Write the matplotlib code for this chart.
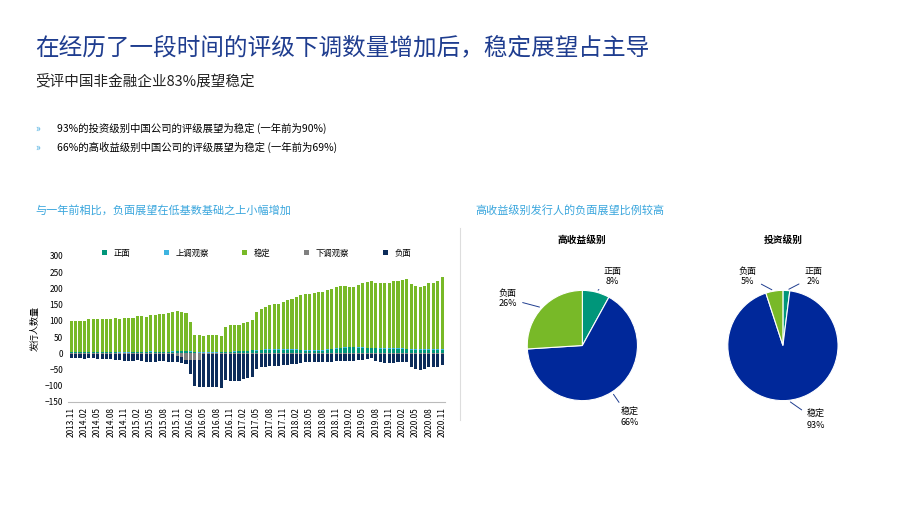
import numpy as np
import pandas as pd
import matplotlib.pyplot as plt

plt.rcParams['font.family'] = ['Noto Sans CJK SC', 'DejaVu Sans']

# monthly issuer counts, 2013.11 - 2020.11
months = pd.period_range('2013-11', '2020-11', freq='M')
stable_top = [100, 100, 100, 99, 105, 105, 105, 106, 107, 107, 108, 107,
              109, 108, 110, 115, 115, 113, 118, 119, 120, 122, 124, 127,
              131, 127, 123, 95, 55, 55, 54, 55, 56, 55, 54, 80,
              86, 86, 88, 92, 95, 103, 128, 137, 143, 148, 152, 153,
              158, 163, 168, 172, 178, 184, 182, 186, 190, 190, 196, 197,
              205, 206, 208, 205, 203, 210, 215, 219, 224, 218, 218, 215,
              218, 222, 224, 227, 228, 212, 206, 203, 208, 215, 216, 222, 236]
positive = [4, 4, 4, 4, 4, 4, 4, 4, 3, 3, 3, 2,
            2, 2, 3, 3, 3, 3, 5, 4, 4, 4, 4, 5,
            6, 6, 6, 5, 3, 2, 2, 2, 2, 2, 3, 4,
            4, 5, 6, 6, 7, 9, 8, 9, 10, 11, 11, 11,
            11, 11, 10, 10, 9, 8, 7, 7, 7, 8, 10, 12,
            14, 15, 17, 18, 18, 17, 16, 15, 15, 15, 14, 13,
            13, 13, 13, 13, 12, 10, 10, 10, 10, 10, 10, 10, 10]
watch_up = [1, 1, 1, 1, 1, 1, 1, 1, 1, 1, 1, 1,
            1, 1, 1, 1, 1, 1, 1, 1, 1, 1, 1, 1,
            1, 1, 1, 1, 1, 1, 1, 1, 1, 1, 1, 1,
            1, 1, 1, 1, 1, 1, 2, 2, 2, 2, 2, 2,
            2, 2, 2, 2, 2, 2, 2, 2, 2, 2, 2, 2,
            2, 2, 2, 2, 2, 2, 2, 2, 2, 2, 2, 2,
            2, 2, 2, 2, 2, 2, 2, 2, 2, 2, 2, 2, 2]
negative = [-14, -14, -14, -15, -13, -13, -15, -15, -15, -16, -18, -20,
            -22, -22, -21, -20, -22, -24, -24, -24, -23, -22, -23, -23,
            -20, -18, -14, -45, -82, -85, -102, -101, -102, -103, -104, -80,
            -82, -82, -82, -78, -75, -72, -46, -41, -39, -37, -37, -36,
            -35, -33, -32, -30, -28, -26, -26, -26, -26, -25, -24, -24,
            -23, -23, -23, -22, -22, -20, -18, -16, -14, -22, -24, -28,
            -28, -27, -26, -26, -26, -40, -46, -48, -46, -40, -40, -40, -35]
watch_down = [-2, -2, -2, -2, -2, -2, -2, -2, -2, -2, -2, -2,
              -2, -2, -2, -2, -2, -2, -2, -2, -2, -2, -3, -3,
              -8, -12, -20, -20, -20, -20, -2, -2, -2, -2, -2, -2,
              -2, -2, -2, -2, -2, -2, -2, -2, -2, -2, -2, -2,
              -2, -2, -2, -2, -2, -2, -2, -2, -2, -2, -2, -2,
              -2, -2, -2, -2, -2, -2, -2, -2, -2, -2, -2, -2,
              -2, -2, -2, -2, -2, -2, -2, -2, -2, -2, -2, -2, -2]

pie_labels = ['正面', '稳定', '负面']
hy_share = [8, 66, 26]
ig_share = [2, 93, 5]

C_POS, C_UP, C_STB, C_DN, C_NEG = '#00967a', '#3db4e0', '#78b928', '#808080', '#0c2c5a'
C_PIE = [C_POS, '#00289a', C_STB]

fig = plt.figure(figsize=(9.2, 5.18), dpi=100)
fig.text(0.038, 0.895, '在经历了一段时间的评级下调数量增加后，稳定展望占主导',
         fontsize=17, color='#1f3d8f')
fig.text(0.038, 0.835, '受评中国非金融企业83%展望稳定', fontsize=10.5, color='#222222')
fig.text(0.038, 0.745, '»', fontsize=7, color='#3aa6dd')
fig.text(0.062, 0.745, '93%的投资级别中国公司的评级展望为稳定 (一年前为90%)', fontsize=7.5)
fig.text(0.038, 0.708, '»', fontsize=7, color='#3aa6dd')
fig.text(0.062, 0.708, '66%的高收益级别中国公司的评级展望为稳定 (一年前为69%)', fontsize=7.5)
fig.text(0.038, 0.588, '与一年前相比，负面展望在低基数基础之上小幅增加', fontsize=8, color='#3aa6dd')
fig.text(0.517, 0.588, '高收益级别发行人的负面展望比例较高', fontsize=8, color='#3aa6dd')
fig.add_artist(plt.Line2D([0.5, 0.5], [0.19, 0.56], color='#dddddd', lw=0.8))

# bar chart
ax = fig.add_axes([0.074, 0.224, 0.41, 0.282])
x = np.arange(len(months))
pos = np.array(positive)
up = np.array(watch_up)
stb = np.array(stable_top) - pos - up
ax.bar(x, pos, 0.7, color=C_POS, label='正面')
ax.bar(x, up, 0.7, bottom=pos, color=C_UP, label='上调观察')
ax.bar(x, stb, 0.7, bottom=pos + up, color=C_STB, label='稳定')
ax.bar(x, watch_down, 0.7, color=C_DN, label='下调观察')
ax.bar(x, negative, 0.7, bottom=watch_down, color=C_NEG, label='负面')
ax.set_ylim(-150, 300)
ax.set_yticks(range(-150, 301, 50))
ax.set_xlim(-0.7, len(x) - 0.3)
ax.set_xticks(x[::3])
ax.set_xticklabels([m.strftime('%Y.%m') for m in months[::3]], rotation=90, fontsize=6)
ax.tick_params(axis='y', labelsize=6, length=0)
ax.tick_params(axis='x', length=0)
ax.set_ylabel('发行人数量', fontsize=6.5)
for s in ['top', 'right', 'left']:
    ax.spines[s].set_visible(False)
ax.spines['bottom'].set_color('#bbbbbb')
ax.legend(loc='upper center', bbox_to_anchor=(0.5, 1.1), ncol=5, frameon=False,
          fontsize=6, handlelength=0.6, handleheight=0.6, columnspacing=4)

# pies
def draw_pie(rect, title, shares, label_pos):
    pax = fig.add_axes(rect)
    wedges, _ = pax.pie(shares, colors=C_PIE, startangle=90, counterclock=False,
                        wedgeprops=dict(edgecolor='white', linewidth=0.8))
    pax.set_aspect('equal')
    pax.set_title(title, fontsize=7, fontweight='bold', pad=24)
    for w, lab, s, (tx, ty) in zip(wedges, pie_labels, shares, label_pos):
        ang = np.deg2rad((w.theta1 + w.theta2) / 2)
        px, py = np.cos(ang), np.sin(ang)
        pax.annotate(f'{lab}\n{s}%', xy=(px, py), xytext=(tx, ty), fontsize=6.5,
                     ha='center', va='center', annotation_clip=False,
                     arrowprops=dict(arrowstyle='-', color='#1f3d8f', lw=0.7))

draw_pie([0.558, 0.2, 0.15, 0.266], '高收益级别', hy_share,
         [(0.55, 1.25), (0.85, -1.3), (-1.35, 0.85)])
draw_pie([0.776, 0.2, 0.15, 0.266], '投资级别', ig_share,
         [(0.55, 1.25), (0.6, -1.35), (-0.65, 1.25)])

fig.savefig('out.png', dpi=100)
